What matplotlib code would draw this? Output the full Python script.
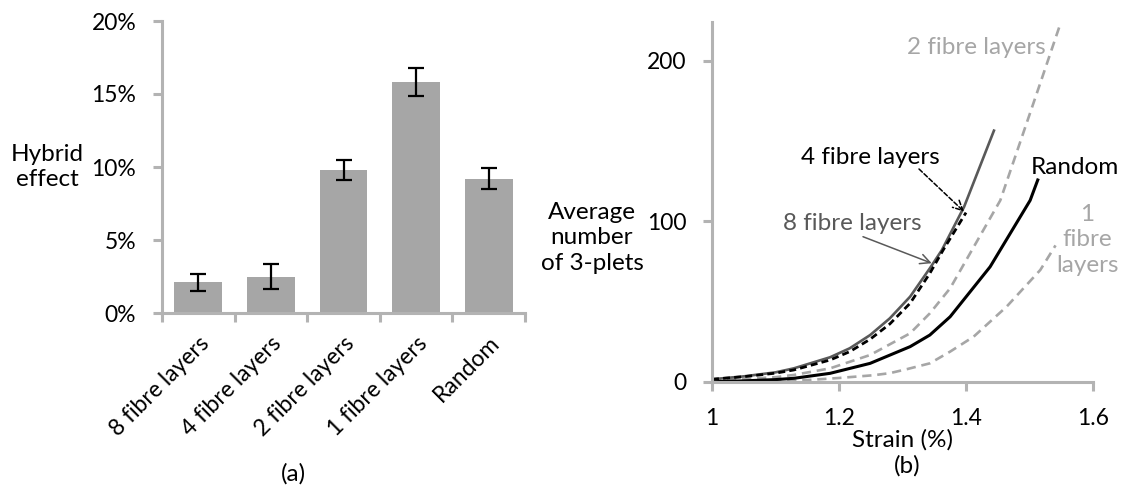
import numpy as np
import matplotlib.pyplot as plt
import matplotlib.ticker as mticker

plt.rcParams["font.family"] = ["Lato", "DejaVu Sans"]

# ---------------------------------------------------------------------------
# (a) Hybrid effect per dispersion
# ---------------------------------------------------------------------------
categories = ["8 fibre layers", "4 fibre layers", "2 fibre layers",
              "1 fibre layers", "Random"]
hybrid_pct = [2.1, 2.5, 9.8, 15.8, 9.2]
hybrid_err = [0.6, 0.85, 0.7, 0.95, 0.7]

# ---------------------------------------------------------------------------
# (b) Average number of 3-plets vs strain
# ---------------------------------------------------------------------------
strain_8 = [1.0, 1.05, 1.1, 1.129, 1.186, 1.217, 1.249, 1.28, 1.312, 1.343,
            1.362, 1.397, 1.444]
plets_8  = [1.7, 3.5, 6.0, 8.5, 15.4, 21.0, 29.2, 39.6, 53.1, 70.7,
            82.1, 109, 156.4]

strain_4 = [1.0, 1.05, 1.1, 1.129, 1.186, 1.217, 1.249, 1.28, 1.312, 1.343,
            1.364, 1.4]
plets_4  = [1.7, 3.3, 5.5, 7.5, 13.7, 18.9, 26.6, 36.1, 49.0, 67.6,
            82.1, 105.4]

strain_2 = [1.0, 1.05, 1.1, 1.129, 1.186, 1.249, 1.312, 1.343, 1.375, 1.454,
            1.517, 1.547]
plets_2  = [1.0, 1.8, 3.0, 4.4, 8.5, 16.8, 30.3, 42.7, 58.3, 113, 186, 221]

strain_1 = [1.0, 1.1, 1.15, 1.2, 1.254, 1.28, 1.307, 1.343, 1.375, 1.412,
            1.464, 1.517, 1.541]
plets_1  = [0.1, 0.5, 1.2, 2.5, 4.2, 5.5, 8.0, 11.6, 18.9, 28.2,
            46.9, 69.7, 85]

strain_r = [1.0, 1.05, 1.1, 1.129, 1.186, 1.249, 1.312, 1.343, 1.375, 1.438,
            1.501, 1.513]
plets_r  = [0.2, 0.7, 1.5, 2.3, 5.4, 11.6, 22.0, 29.2, 40.6, 71.7, 113, 125.7]

AXIS_GREY = "#B3B3B3"
BAR_GREY  = "#A6A6A6"
MID_GREY  = "#595959"
LIGHT     = "#A6A6A6"
TICK_FS   = 16.5
TEXT_FS   = 17.5
W, H      = 1121, 487

fig = plt.figure(figsize=(W / 100, H / 100), dpi=100)
ax_a = fig.add_axes([162 / W, 1 - 313 / H, (525 - 162) / W, 292 / H])
ax_b = fig.add_axes([712 / W, 1 - 382 / H, (1093 - 712) / W, 360 / H])


def px(x, y):
    """Figure-fraction position from pixel coords measured from the top."""
    return x / W, 1 - y / H


def style_axes(ax):
    for side in ("top", "right"):
        ax.spines[side].set_visible(False)
    for side in ("left", "bottom"):
        ax.spines[side].set_color(AXIS_GREY)
        ax.spines[side].set_linewidth(2.2)
    ax.tick_params(colors=AXIS_GREY, width=2.2, length=6.5,
                   labelcolor="black", labelsize=TICK_FS)


# --- panel (a) ---
x = np.arange(len(categories))
ax_a.bar(x, hybrid_pct, width=0.66, color=BAR_GREY, zorder=2)
ax_a.errorbar(x, hybrid_pct, yerr=hybrid_err, fmt="none", ecolor="black",
              elinewidth=1.6, capsize=6, capthick=1.6, zorder=3)
ax_a.set_xlim(-0.5, len(categories) - 0.5)
ax_a.set_ylim(0, 20)
style_axes(ax_a)
ax_a.yaxis.set_major_locator(mticker.MultipleLocator(5))
ax_a.yaxis.set_major_formatter(mticker.FuncFormatter(lambda v, _: f"{v:.0f}%"))
ax_a.set_xticks(np.arange(-0.5, len(categories), 1.0))
ax_a.set_xticklabels([])
ax_a.set_xticks(x, minor=True)
ax_a.set_xticklabels(categories, minor=True, rotation=45, ha="right",
                     rotation_mode="anchor", fontsize=TICK_FS)
ax_a.tick_params(axis="x", which="minor", length=0, pad=14)
ax_a.tick_params(axis="y", pad=12)
fig.text(*px(47, 167), "Hybrid\neffect", ha="center", va="center",
         fontsize=TEXT_FS, linespacing=1.25)
fig.text(*px(293, 474), "(a)", ha="center", va="center", fontsize=TEXT_FS)

# --- panel (b) ---
light_dash = (0, (3.5, 2.2))
ax_b.plot(strain_2, plets_2, color=LIGHT, lw=1.9, ls=light_dash)
ax_b.plot(strain_1, plets_1, color=LIGHT, lw=1.9, ls=light_dash)
ax_b.plot(strain_r, plets_r, color="black", lw=2.2)
ax_b.plot(strain_8, plets_8, color=MID_GREY, lw=1.9)
ax_b.plot(strain_4, plets_4, color="black", lw=2.0, ls=(0, (2.5, 1.5)))
ax_b.set_xlim(1, 1.6)
ax_b.set_ylim(0, 224)
style_axes(ax_b)
ax_b.xaxis.set_major_locator(mticker.MultipleLocator(0.2))
ax_b.xaxis.set_major_formatter(mticker.FuncFormatter(lambda v, _: f"{v:g}"))
ax_b.yaxis.set_major_locator(mticker.MultipleLocator(100))
ax_b.tick_params(axis="x", pad=12)
ax_b.tick_params(axis="y", pad=12)

# callout arrows (open heads) for the two overlapping curves
ax_b.annotate("", xy=(1.397, 106), xytext=(919, H - 169),
              textcoords="figure pixels", annotation_clip=False,
              arrowprops=dict(arrowstyle="->,head_length=0.5,head_width=0.25",
                              color="black", lw=1.1, ls=(0, (3, 1.5)),
                              shrinkA=0, shrinkB=0, mutation_scale=14))
ax_b.annotate("", xy=(1.346, 73.9), xytext=(863, H - 236.7),
              textcoords="figure pixels", annotation_clip=False,
              arrowprops=dict(arrowstyle="->,head_length=0.5,head_width=0.25",
                              color=MID_GREY, lw=1.1, shrinkA=0, shrinkB=0,
                              mutation_scale=14))

fig.text(*px(870, 157), "4 fibre layers", ha="center", va="center",
         fontsize=TEXT_FS, color="black")
fig.text(*px(852, 223), "8 fibre layers", ha="center", va="center",
         fontsize=TEXT_FS, color=MID_GREY)
fig.text(*px(976, 48), "2 fibre layers", ha="center", va="center",
         fontsize=TEXT_FS, color=LIGHT)
fig.text(*px(1075, 167), "Random", ha="center", va="center",
         fontsize=TEXT_FS, color="black")
fig.text(*px(1087, 240), "1\nfibre\nlayers", ha="center", va="center",
         fontsize=TEXT_FS, color=LIGHT, linespacing=1.25)
fig.text(*px(592, 238), "Average\nnumber\nof 3-plets", ha="center",
         va="center", fontsize=TEXT_FS, linespacing=1.25)
fig.text(*px(903, 440), "Strain (%)", ha="center", va="center",
         fontsize=TEXT_FS)
fig.text(*px(907, 466), "(b)", ha="center", va="center", fontsize=TEXT_FS)

fig.savefig("out.png", dpi=100)
